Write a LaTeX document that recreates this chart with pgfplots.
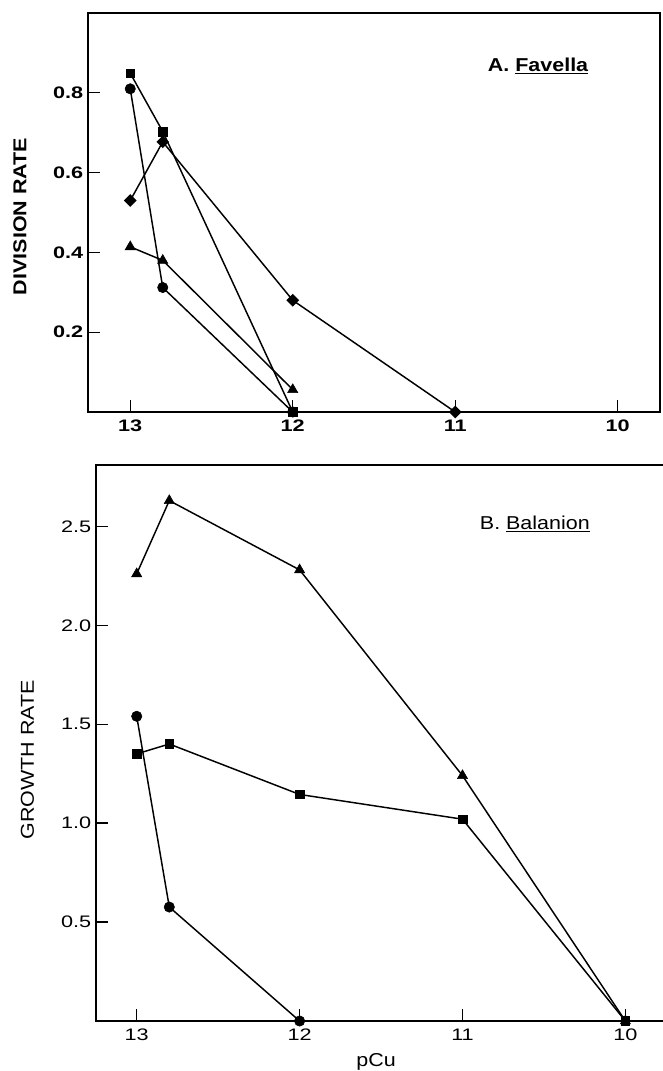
\documentclass[border=0pt]{standalone}
\usepackage{fontspec}
\setmainfont{Liberation Sans}[FakeStretch=1.15]
\newfontfamily\tickfont{Liberation Sans}[FakeStretch=1.3]
\usepackage{pgfplots}
\pgfplotsset{compat=1.18}

\pgfplotsset{
  panel/.style={
    scale only axis, clip=false, x dir=reverse,
    xtick={10,11,12,13},
    tick align=inside, major tick length=9pt,
    xtick pos=bottom, ytick pos=left,
    tick style={line width=1pt,black},
    axis line style={line width=1.6pt},
    /pgf/number format/assume math mode=true,
    /pgf/number format/fixed, /pgf/number format/fixed zerofill,
    /pgf/number format/precision=1,
    xticklabel={\pgfmathprintnumber[precision=0,fixed zerofill=false]{\tick}},
    ticklabel style={font=\tickfont\fontsize{12.5}{14}\selectfont},
    xticklabel style={yshift=-2.5pt},
    label style={font=\fontsize{14}{16}\selectfont},
    every axis plot/.append style={black,line width=1.1pt,mark options={solid,line width=0.4pt}},
  },
  sq/.style={mark=square*,mark size=3.2pt},
  ci/.style={mark=*,mark size=3.9pt},
  tr/.style={mark=triangle*,mark size=4.4pt},
  di/.style={mark=square*,mark size=2.8pt,mark options={rotate=45}},
}

\begin{document}
\begin{tikzpicture}
\useasboundingbox (0,0) rectangle (497.25pt,-803.25pt);

% A. Favella
\begin{axis}[panel, at={(66pt,-9.75pt)}, anchor=north west,
  width=429pt, height=299.25pt,
  xmin=9.74, xmax=13.26, ymin=0, ymax=1.0,
  ytick={0.2,0.4,0.6,0.8},
  ticklabel style={font=\tickfont\bfseries\fontsize{12.5}{14}\selectfont},
  ylabel={DIVISION RATE},
  ylabel style={at={(axis description cs:-0.119,0.49)},anchor=center,font=\bfseries\fontsize{14}{16}\selectfont}]
\addplot[sq] coordinates {(13,0.849)(12.8,0.703)(12,0)};
\addplot[ci] coordinates {(13,0.81)(12.8,0.312)(12,0)};
\addplot[di] coordinates {(13,0.53)(12.8,0.677)(12,0.28)(11,0)};
\addplot[tr] coordinates {(13,0.414)(12.8,0.38)(12,0.056)};
\node[anchor=base east,font=\bfseries\fontsize{14}{16}\selectfont] at (axis cs:10.153,0.853) {A.\ \underline{Favella}};
\end{axis}

% B. Balanion
\begin{axis}[panel, at={(72pt,-348.75pt)}, anchor=north west,
  width=431.25pt, height=417pt,
  xmin=9.72, xmax=13.25, ymin=0, ymax=2.81,
  ytick={0.5,1.0,1.5,2.0,2.5},
  ylabel={GROWTH RATE},
  ylabel style={at={(axis description cs:-0.119,0.47)},anchor=center},
  xlabel={pCu},
  xlabel style={at={(axis description cs:0.487,0)},anchor=base,yshift=-34pt}]
\addplot[tr] coordinates {(13,2.26)(12.8,2.63)(12,2.28)(11,1.24)(10,0)};
\addplot[sq] coordinates {(13,1.35)(12.8,1.40)(12,1.145)(11,1.02)(10,0)};
\addplot[ci] coordinates {(13,1.54)(12.8,0.576)(12,0)};
\node[anchor=base east,font=\fontsize{14}{16}\selectfont] at (axis cs:10.19,2.485) {B.\ \underline{Balanion}};
\end{axis}
\end{tikzpicture}
\end{document}
